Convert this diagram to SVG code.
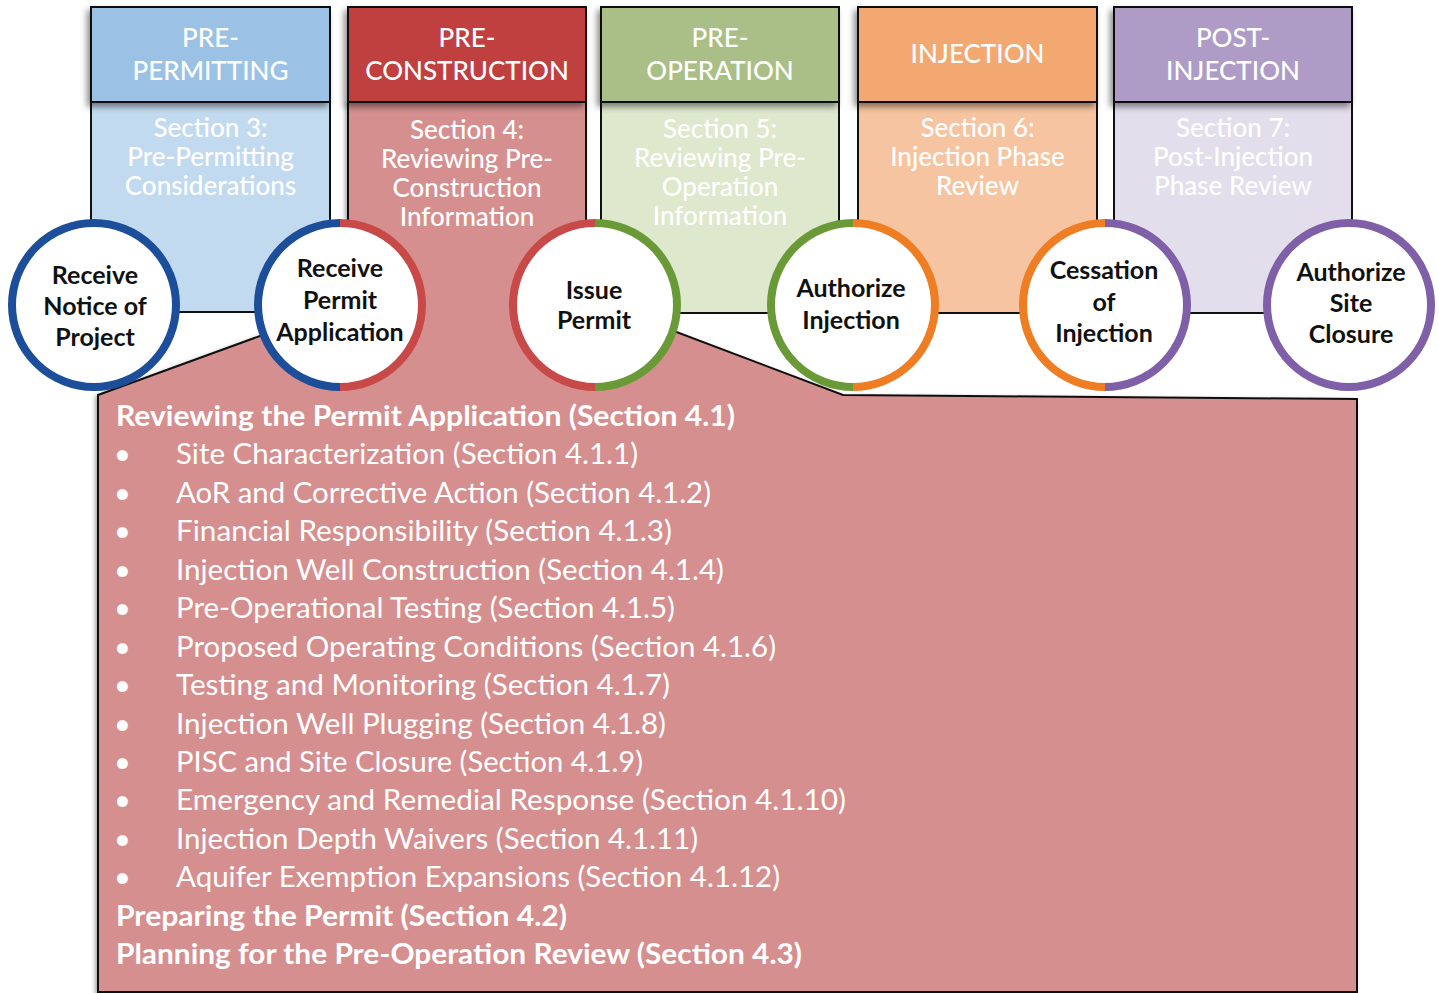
<svg xmlns="http://www.w3.org/2000/svg" width="1439" height="993" viewBox="0 0 1439 993">
<defs>
<filter id="sh" x="-20%" y="-20%" width="140%" height="150%">
<feDropShadow dx="-3" dy="4" stdDeviation="3" flood-color="#000" flood-opacity="0.45"/>
</filter>
<filter id="sh2" x="-5%" y="-5%" width="110%" height="110%">
<feDropShadow dx="-2" dy="2" stdDeviation="2" flood-color="#000" flood-opacity="0.35"/>
</filter>
</defs>
<style>
.hdr{stroke:#111;stroke-width:2}
.body{stroke:#111;stroke-width:2}
.ht{font-family:Lato,"Liberation Sans",sans-serif;font-size:26px;font-weight:500;fill:#fff;text-anchor:middle}
.bt{font-family:Lato,"Liberation Sans",sans-serif;font-size:26px;font-weight:500;fill:#fff;text-anchor:middle}
.ct{font-family:Lato,"Liberation Sans",sans-serif;font-size:25px;font-weight:bold;fill:#111;text-anchor:middle}
.ring{fill:none;stroke-width:8}
.disc{fill:#fff}
.li{font-family:Lato,"Liberation Sans",sans-serif;font-size:29px;fill:#fff}
.lb{font-family:Lato,"Liberation Sans",sans-serif;font-size:29px;font-weight:bold;fill:#fff}
</style>
<rect width="1439" height="993" fill="#fff"/>

<!-- stage body boxes -->
<g id="body-prepermitting"><rect class="body" x="91" y="102" width="239" height="210" fill="#C2DAEF"/></g>
<g id="body-preoperation"><rect class="body" x="601" y="102" width="238" height="211" fill="#DDE8CC"/></g>
<g id="body-injection"><rect class="body" x="858" y="102" width="239" height="211" fill="#F6C4A0"/></g>
<g id="body-postinjection"><rect class="body" x="1114" y="102" width="238" height="211" fill="#E2DEEC"/></g>

<!-- callout (pre-construction body expanded) -->
<g id="callout">
<path filter="url(#sh2)" d="M98,395 L290,325 L348,300 L348,102 L586,102 L586,300 L650,322 L843,395 L1357,399 L1357,992 L98,992 Z" fill="#D68F8F" stroke="#111" stroke-width="2" stroke-linejoin="miter"/>
</g>

<!-- headers -->
<g id="hdr-prepermitting">
<rect class="hdr" filter="url(#sh)" x="91" y="7" width="239" height="95" fill="#9BC2E4"/>
<text class="ht" x="210.5" y="47">PRE-</text>
<text class="ht" x="210.5" y="80">PERMITTING</text>
</g>
<g id="hdr-preconstruction">
<rect class="hdr" filter="url(#sh)" x="348" y="7" width="238" height="95" fill="#C0413F"/>
<text class="ht" x="467" y="47">PRE-</text>
<text class="ht" x="467" y="80">CONSTRUCTION</text>
</g>
<g id="hdr-preoperation">
<rect class="hdr" filter="url(#sh)" x="601" y="7" width="238" height="95" fill="#A9BF87"/>
<text class="ht" x="720" y="47">PRE-</text>
<text class="ht" x="720" y="80">OPERATION</text>
</g>
<g id="hdr-injection">
<rect class="hdr" filter="url(#sh)" x="858" y="7" width="239" height="95" fill="#F4A871"/>
<text class="ht" x="977.5" y="63">INJECTION</text>
</g>
<g id="hdr-postinjection">
<rect class="hdr" filter="url(#sh)" x="1114" y="7" width="238" height="95" fill="#AE9CC7"/>
<text class="ht" x="1233" y="47">POST-</text>
<text class="ht" x="1233" y="80">INJECTION</text>
</g>

<!-- section texts -->
<g id="sec3">
<text class="bt" x="210.5" y="137">Section 3:</text>
<text class="bt" x="210.5" y="166">Pre-Permitting</text>
<text class="bt" x="210.5" y="195">Considerations</text>
</g>
<g id="sec4">
<text class="bt" x="467" y="139">Section 4:</text>
<text class="bt" x="467" y="168">Reviewing Pre-</text>
<text class="bt" x="467" y="197">Construction</text>
<text class="bt" x="467" y="226">Information</text>
</g>
<g id="sec5">
<text class="bt" x="720" y="138">Section 5:</text>
<text class="bt" x="720" y="167">Reviewing Pre-</text>
<text class="bt" x="720" y="196">Operation</text>
<text class="bt" x="720" y="225">Information</text>
</g>
<g id="sec6">
<text class="bt" x="977.5" y="137">Section 6:</text>
<text class="bt" x="977.5" y="166">Injection Phase</text>
<text class="bt" x="977.5" y="195">Review</text>
</g>
<g id="sec7">
<text class="bt" x="1233" y="137">Section 7:</text>
<text class="bt" x="1233" y="166">Post-Injection</text>
<text class="bt" x="1233" y="195">Phase Review</text>
</g>

<!-- milestone circles -->
<g id="m-notice">
<circle class="disc" cx="94" cy="305" r="82"/>
<circle class="ring" cx="94" cy="305" r="82" stroke="#1C4E9A"/>
<text class="ct" x="95" y="284">Receive</text>
<text class="ct" x="95" y="315">Notice of</text>
<text class="ct" x="95" y="346">Project</text>
</g>
<g id="m-application">
<circle class="disc" cx="340" cy="305" r="82"/>
<path class="ring" d="M340,223 A82,82 0 0 0 340,387" stroke="#1C4E9A"/>
<path class="ring" d="M340,223 A82,82 0 0 1 340,387" stroke="#C84A48"/>
<text class="ct" x="340" y="277">Receive</text>
<text class="ct" x="340" y="309">Permit</text>
<text class="ct" x="340" y="341">Application</text>
</g>
<g id="m-issue">
<circle class="disc" cx="595" cy="305" r="82"/>
<path class="ring" d="M595,223 A82,82 0 0 0 595,387" stroke="#C84A48"/>
<path class="ring" d="M595,223 A82,82 0 0 1 595,387" stroke="#6A9A38"/>
<text class="ct" x="594" y="299">Issue</text>
<text class="ct" x="594" y="329">Permit</text>
</g>
<g id="m-authorize">
<circle class="disc" cx="853" cy="305" r="82"/>
<path class="ring" d="M853,223 A82,82 0 0 0 853,387" stroke="#6A9A38"/>
<path class="ring" d="M853,223 A82,82 0 0 1 853,387" stroke="#EE7D23"/>
<text class="ct" x="851" y="297">Authorize</text>
<text class="ct" x="851" y="329">Injection</text>
</g>
<g id="m-cessation">
<circle class="disc" cx="1105" cy="305" r="82"/>
<path class="ring" d="M1105,223 A82,82 0 0 0 1105,387" stroke="#EE7D23"/>
<path class="ring" d="M1105,223 A82,82 0 0 1 1105,387" stroke="#7E5FA8"/>
<text class="ct" x="1104" y="279">Cessation</text>
<text class="ct" x="1104" y="311">of</text>
<text class="ct" x="1104" y="342">Injection</text>
</g>
<g id="m-closure">
<circle class="disc" cx="1349" cy="305" r="82"/>
<circle class="ring" cx="1349" cy="305" r="82" stroke="#7E5FA8"/>
<text class="ct" x="1351" y="281">Authorize</text>
<text class="ct" x="1351" y="312">Site</text>
<text class="ct" x="1351" y="343">Closure</text>
</g>

<!-- callout list -->
<g id="list">
<text class="lb" x="116" y="426" textLength="619" lengthAdjust="spacingAndGlyphs">Reviewing the Permit Application  (Section 4.1)</text>
<text class="li" x="114" y="464">•</text><text class="li" x="176" y="464" textLength="462" lengthAdjust="spacingAndGlyphs">Site Characterization (Section 4.1.1)</text>
<text class="li" x="114" y="503">•</text><text class="li" x="176" y="503" textLength="535" lengthAdjust="spacingAndGlyphs">AoR and Corrective Action (Section 4.1.2)</text>
<text class="li" x="114" y="541">•</text><text class="li" x="176" y="541" textLength="496" lengthAdjust="spacingAndGlyphs">Financial Responsibility (Section 4.1.3)</text>
<text class="li" x="114" y="580">•</text><text class="li" x="176" y="580" textLength="548" lengthAdjust="spacingAndGlyphs">Injection  Well Construction (Section 4.1.4)</text>
<text class="li" x="114" y="618">•</text><text class="li" x="176" y="618" textLength="499" lengthAdjust="spacingAndGlyphs">Pre-Operational Testing (Section 4.1.5)</text>
<text class="li" x="114" y="657">•</text><text class="li" x="176" y="657" textLength="600" lengthAdjust="spacingAndGlyphs">Proposed Operating Conditions (Section 4.1.6)</text>
<text class="li" x="114" y="695">•</text><text class="li" x="176" y="695" textLength="494" lengthAdjust="spacingAndGlyphs">Testing and Monitoring (Section 4.1.7)</text>
<text class="li" x="114" y="734">•</text><text class="li" x="176" y="734" textLength="490" lengthAdjust="spacingAndGlyphs">Injection Well Plugging (Section 4.1.8)</text>
<text class="li" x="114" y="772">•</text><text class="li" x="176" y="772" textLength="467" lengthAdjust="spacingAndGlyphs">PISC and Site Closure (Section 4.1.9)</text>
<text class="li" x="114" y="810">•</text><text class="li" x="176" y="810" textLength="670" lengthAdjust="spacingAndGlyphs">Emergency and Remedial Response (Section 4.1.10)</text>
<text class="li" x="114" y="849">•</text><text class="li" x="176" y="849" textLength="522" lengthAdjust="spacingAndGlyphs">Injection Depth Waivers (Section 4.1.11)</text>
<text class="li" x="114" y="887">•</text><text class="li" x="176" y="887" textLength="604" lengthAdjust="spacingAndGlyphs">Aquifer Exemption Expansions (Section 4.1.12)</text>
<text class="lb" x="116" y="926" textLength="451" lengthAdjust="spacingAndGlyphs">Preparing the Permit (Section 4.2)</text>
<text class="lb" x="116" y="964" textLength="686" lengthAdjust="spacingAndGlyphs">Planning  for the Pre-Operation Review (Section 4.3)</text>
</g>
</svg>
